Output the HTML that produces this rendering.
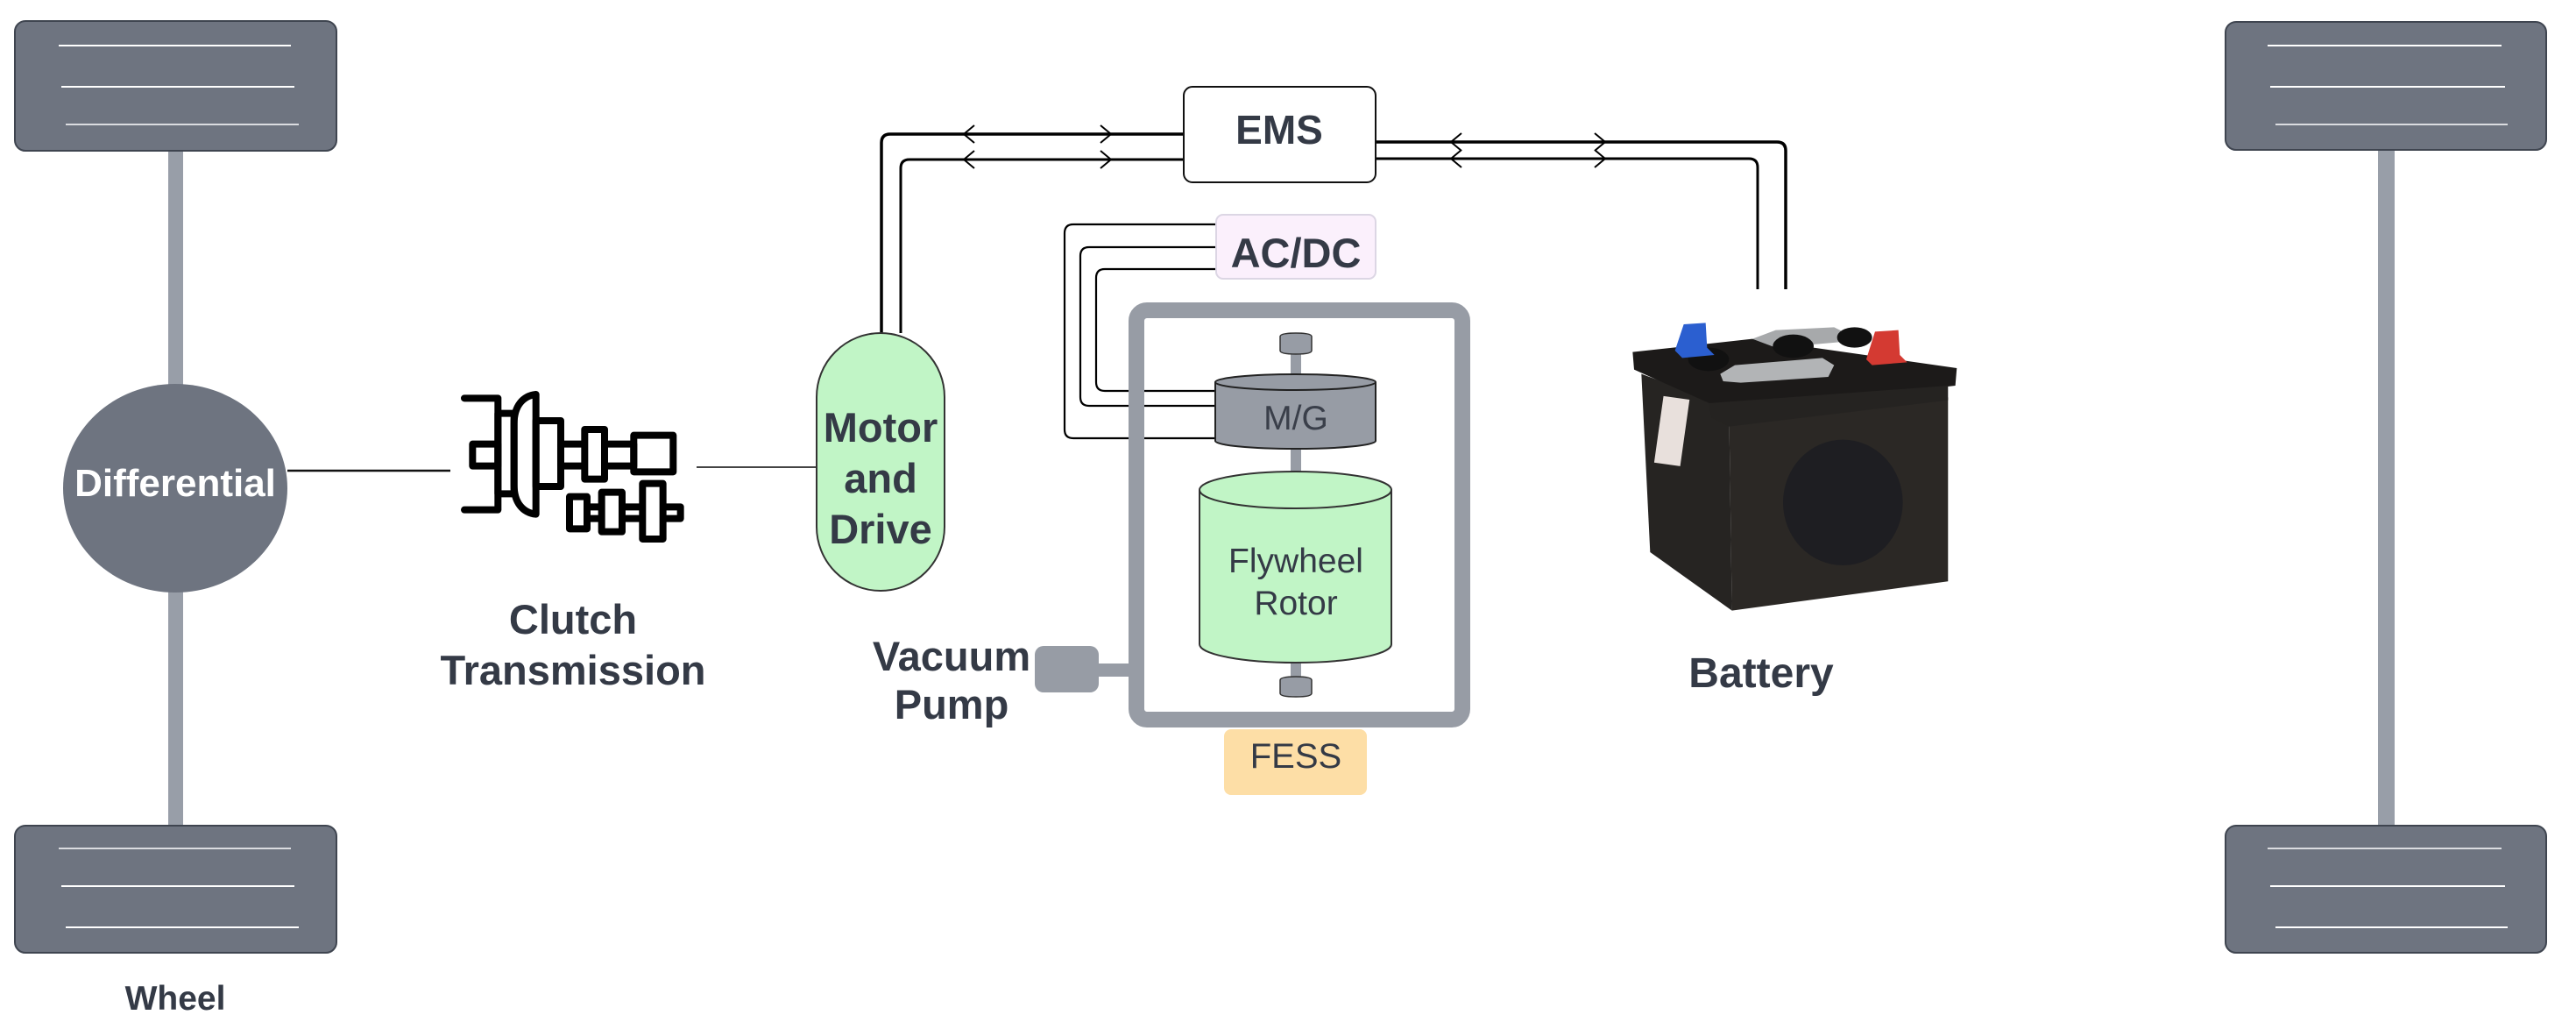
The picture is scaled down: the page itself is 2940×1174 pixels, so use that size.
<!DOCTYPE html>
<html><head><meta charset="utf-8"><style>
html,body{margin:0;padding:0;background:#fff;}
svg{display:block;}
text{font-family:"Liberation Sans",Arial,sans-serif;}
</style></head><body>
<svg width="2940" height="1174" viewBox="0 0 2940 1174" xmlns="http://www.w3.org/2000/svg">
<rect width="2940" height="1174" fill="#fff"/>
<rect x="192" y="170" width="17" height="775" fill="#989ea8"/>
<g>
<rect x="17" y="24" width="367" height="148" rx="12" fill="#6e7480" stroke="#3f4550" stroke-width="2"/>
<line x1="67" y1="52" x2="332" y2="52" stroke="#fff" stroke-width="2"/>
<line x1="70" y1="99" x2="336" y2="99" stroke="#fff" stroke-width="2"/>
<line x1="75" y1="142" x2="341" y2="142" stroke="#fff" stroke-width="1.5"/>
</g>
<g>
<rect x="17" y="942" width="367" height="145" rx="12" fill="#6e7480" stroke="#3f4550" stroke-width="2"/>
<line x1="67" y1="968" x2="332" y2="968" stroke="#fff" stroke-width="1.5"/>
<line x1="70" y1="1011" x2="336" y2="1011" stroke="#fff" stroke-width="2"/>
<line x1="75" y1="1058" x2="341" y2="1058" stroke="#fff" stroke-width="2"/>
</g>
<rect x="2714" y="170" width="19" height="775" fill="#989ea8"/>
<g>
<rect x="2540" y="25" width="366" height="146" rx="12" fill="#6e7480" stroke="#3f4550" stroke-width="2"/>
<line x1="2588" y1="52" x2="2855" y2="52" stroke="#fff" stroke-width="2"/>
<line x1="2591" y1="99" x2="2859" y2="99" stroke="#fff" stroke-width="2"/>
<line x1="2597" y1="142" x2="2862" y2="142" stroke="#fff" stroke-width="1.5"/>
</g>
<g>
<rect x="2540" y="942" width="366" height="145" rx="12" fill="#6e7480" stroke="#3f4550" stroke-width="2"/>
<line x1="2588" y1="968" x2="2855" y2="968" stroke="#fff" stroke-width="1.5"/>
<line x1="2591" y1="1011" x2="2859" y2="1011" stroke="#fff" stroke-width="2"/>
<line x1="2597" y1="1058" x2="2862" y2="1058" stroke="#fff" stroke-width="2"/>
</g>
<ellipse cx="200" cy="557" rx="128" ry="119" fill="#6e7480"/>
<text x="200" y="566" font-size="44" font-weight="bold" fill="#fff" text-anchor="middle">Differential</text>
<text x="200" y="1152" font-size="39" font-weight="bold" fill="#343a46" text-anchor="middle">Wheel</text>
<line x1="328" y1="537" x2="514" y2="537" stroke="#111" stroke-width="2.5"/>
<line x1="795" y1="533" x2="932" y2="533" stroke="#444" stroke-width="2"/>
<g transform="translate(510,400) scale(0.3333)" fill="none" stroke="#000" stroke-width="24" stroke-linejoin="round" stroke-linecap="round">
<path d="M60 163 H175 V545 H60"/>
<rect x="88" y="320" width="87" height="75"/>
<rect x="175" y="215" width="55" height="275"/>
<path d="M305 150 V560 C260 555 230 520 230 460 V250 C230 190 260 155 305 150 Z"/>
<rect x="305" y="240" width="85" height="225"/>
<rect x="390" y="320" width="250" height="75"/>
<rect x="472" y="270" width="68" height="170" fill="#fff"/>
<rect x="640" y="290" width="135" height="125"/>
<rect x="480" y="535" width="320" height="40"/>
<rect x="420" y="500" width="60" height="110" fill="#fff"/>
<rect x="530" y="485" width="70" height="135" fill="#fff"/>
<rect x="670" y="455" width="70" height="190" fill="#fff"/>
</g>
<text x="654" y="723" font-size="47" font-weight="bold" fill="#343a46" text-anchor="middle">Clutch</text>
<text x="654" y="781" font-size="47" font-weight="bold" fill="#343a46" text-anchor="middle">Transmission</text>
<g fill="none" stroke="#000" stroke-linejoin="round">
<path d="M1351 153 H1016 Q1006 153 1006 163 V380" stroke-width="3.5"/>
<path d="M1351 182 H1038 Q1028 182 1028 192 V380" stroke-width="3"/>
<path d="M1570 162 H2028 Q2038 162 2038 172 V330" stroke-width="3.5"/>
<path d="M1570 181 H1996 Q2006 181 2006 191 V330" stroke-width="3"/>
<g stroke-width="2">
<path d="M1112 143 L1100 153 L1112 163"/><path d="M1112 172 L1100 182 L1112 192"/>
<path d="M1256 143 L1268 153 L1256 163"/><path d="M1256 172 L1268 182 L1256 192"/>
<path d="M1668 152 L1656 162 L1668 172"/><path d="M1668 171 L1656 181 L1668 191"/>
<path d="M1820 152 L1832 162 L1820 172"/><path d="M1820 171 L1832 181 L1820 191"/>
</g>
</g>
<rect x="1351" y="99" width="219" height="109" rx="10" fill="#fff" stroke="#111" stroke-width="2"/>
<text x="1460" y="164" font-size="46" font-weight="bold" fill="#343a46" text-anchor="middle">EMS</text>
<rect x="932" y="380" width="146" height="294" rx="73" fill="#c1f5c6" stroke="#333" stroke-width="2"/>
<text x="1005" y="504" font-size="47" font-weight="bold" fill="#343a46" text-anchor="middle">Motor</text>
<text x="1005" y="562" font-size="47" font-weight="bold" fill="#343a46" text-anchor="middle">and</text>
<text x="1005" y="620" font-size="47" font-weight="bold" fill="#343a46" text-anchor="middle">Drive</text>
<g fill="none" stroke="#000" stroke-width="2.2">
<path d="M1390 256 H1225 Q1215 256 1215 266 V490 Q1215 500 1225 500 H1390"/>
<path d="M1390 282 H1243 Q1233 282 1233 292 V453 Q1233 463 1243 463 H1390"/>
<path d="M1390 307 H1261 Q1251 307 1251 317 V436 Q1251 446 1261 446 H1390"/>
</g>
<rect x="1388" y="245" width="182" height="73" rx="8" fill="#fbf0fc" stroke="#dcd6e4" stroke-width="2"/>
<text x="1479" y="305" font-size="47" font-weight="bold" fill="#343a46" text-anchor="middle">AC/DC</text>
<rect x="1252" y="757" width="40" height="15" fill="#979ca5"/>
<rect x="1181" y="737" width="73" height="53" rx="10" fill="#979ca5"/>
<text x="1086" y="765" font-size="47" font-weight="bold" fill="#343a46" text-anchor="middle">Vacuum</text>
<text x="1086" y="820" font-size="47" font-weight="bold" fill="#343a46" text-anchor="middle">Pump</text>
<rect x="1297" y="354" width="372" height="467" rx="12" fill="none" stroke="#979ca5" stroke-width="18"/>
<rect x="1473" y="400" width="12" height="30" fill="#979ca5"/>
<rect x="1473" y="510" width="12" height="30" fill="#979ca5"/>
<rect x="1473" y="754" width="12" height="20" fill="#979ca5"/>
<g fill="#979ca5" stroke="#333" stroke-width="1.5">
<path d="M1461 384 Q1461 380 1479 380 Q1497 380 1497 384 V400 Q1497 404 1479 404 Q1461 404 1461 400 Z"/>
<path d="M1461 776 Q1461 772 1479 772 Q1497 772 1497 776 V791 Q1497 795 1479 795 Q1461 795 1461 791 Z"/>
</g>
<path d="M1387 436 V503 A91 9 0 0 0 1570 503 V436" fill="#979ca5" stroke="#222" stroke-width="2"/>
<ellipse cx="1478.5" cy="436" rx="91.5" ry="9" fill="#979ca5" stroke="#222" stroke-width="2"/>
<text x="1479" y="490" font-size="39" fill="#3a3f4a" text-anchor="middle">M/G</text>
<path d="M1369 559 V735 A109.5 21 0 0 0 1588 735 V559" fill="#c1f5c6" stroke="#333" stroke-width="2"/>
<ellipse cx="1478.5" cy="559" rx="109.5" ry="21" fill="#c1f5c6" stroke="#333" stroke-width="2"/>
<text x="1479" y="653" font-size="39" fill="#343a46" text-anchor="middle">Flywheel</text>
<text x="1479" y="701" font-size="39" fill="#343a46" text-anchor="middle">Rotor</text>
<rect x="1397" y="832" width="163" height="75" rx="8" fill="#fddea6"/>
<text x="1479" y="876" font-size="40" fill="#343a46" text-anchor="middle">FESS</text>
<g transform="translate(1840,330) scale(0.3333)">
<polygon points="100,290 400,400 410,1100 130,900" fill="#262422"/>
<polygon points="400,400 1150,370 1150,1000 410,1100" fill="#2b2825"/>
<polygon points="70,215 480,170 1180,270 1175,330 400,420 75,275" fill="#1c1a19"/>
<polygon points="330,390 1150,330 1150,380 400,470 340,440" fill="#252321"/>
<ellipse cx="790" cy="730" rx="205" ry="215" fill="#1e1e22"/>
<path d="M480 170 L560 140 L760 130 L800 150 L790 180 L560 200 Z" fill="#a7a9ab"/>
<path d="M370 290 L420 260 L720 235 L760 260 L740 300 L440 320 L380 315 Z" fill="#b2b4b6"/>
<ellipse cx="330" cy="240" rx="70" ry="40" fill="#111"/>
<ellipse cx="620" cy="195" rx="70" ry="40" fill="#111"/>
<ellipse cx="830" cy="165" rx="60" ry="35" fill="#111"/>
<path d="M245 120 L320 115 L325 200 L350 225 L240 235 L215 210 Z" fill="#2b5fd0"/>
<path d="M900 145 L980 140 L985 225 L1010 250 L890 260 L870 240 Z" fill="#d43a32"/>
<rect x="160" y="370" width="90" height="230" fill="#e8e0dc" transform="rotate(8 200 480)"/>
</g>
<text x="2010" y="784" font-size="48" font-weight="bold" fill="#343a46" text-anchor="middle">Battery</text>
</svg>
</body></html>
